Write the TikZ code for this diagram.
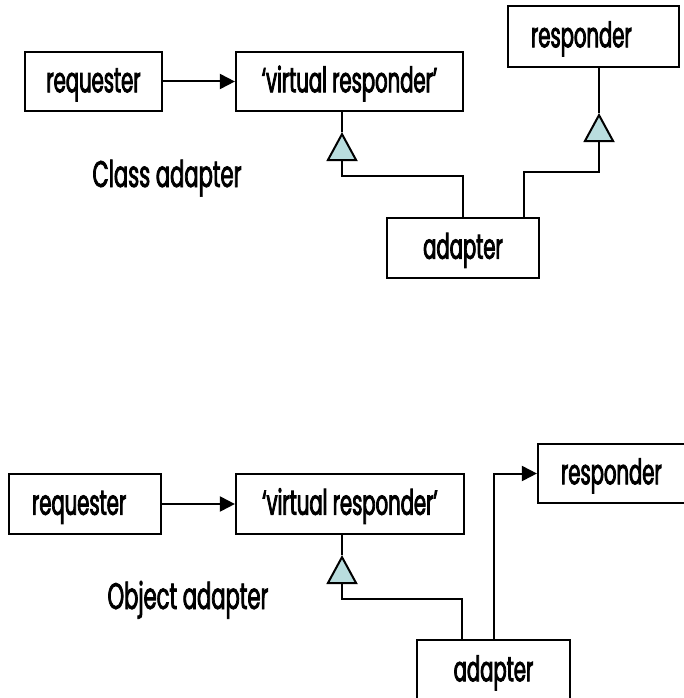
\documentclass[tikz,border=0pt]{standalone}
\usepackage{fontspec}
\newfontfamily\lab[FakeStretch=0.56,FakeBold=2.3]{Poppins}
\newfontfamily\capfont[FakeStretch=0.57,FakeBold=2]{Poppins}
\usetikzlibrary{arrows.meta}
\definecolor{genfill}{RGB}{185,221,222}
\tikzset{
  box/.style={draw, line width=2.2pt, inner sep=0pt, text height=27.6pt, text depth=6pt,
    font=\lab\fontsize{35}{38}\selectfont},
  leftbox/.style={box, inner xsep=23pt, align=left},
  link/.style={line width=2pt},
  call/.style={link, -{Triangle[length=15pt,width=15pt]}},
  gen/.style={link, -{Triangle[length=29pt,width=31pt,fill=genfill]}},
  caption/.style={anchor=base, font=\capfont\fontsize{37}{40}\selectfont}
}
\begin{document}
\begin{tikzpicture}[x=1pt,y=-1pt]
\useasboundingbox (0,0) rectangle (684,698);

% ---- class adapter ----
\node[box, minimum width=137pt, minimum height=59pt] (req1) at (93.5,81.5) {requester};
\node[box, minimum width=227pt, minimum height=59pt] (vr1) at (349.5,81.5) {‘virtual responder’};
\node[leftbox, text width=125pt, minimum height=61pt] (resp1) at (593.5,36.5) {responder};
\node[box, minimum width=152pt, minimum height=60pt] (ad1) at (463,248) {adapter};
\node[caption] (cap1) at (167,187) {Class adapter};

\coordinate (tip1) at (342,132);
\coordinate (tip2) at (599,113);

\draw[call] (req1.east) -- (vr1.west);
\draw[gen] (ad1.north) -- ++(0,-41) -| (tip1);
\draw[link] (vr1.south -| tip1) -- (tip1);
\draw[gen] ([xshift=-16pt]ad1.north east) -- ++(0,-45) -| (tip2);
\draw[link] (resp1.south -| tip2) -- (tip2);

% ---- object adapter ----
\node[leftbox, text width=106pt, minimum height=60pt] (req2) at (85,504) {requester};
\node[box, minimum width=228pt, minimum height=60pt] (vr2) at (350,504) {‘virtual responder’};
\node[leftbox, text width=114pt, minimum height=59pt] (resp2) at (618,473.5) {responder};
\node[box, minimum width=153pt, minimum height=61pt] (ad2) at (493.5,670.5) {adapter};
\node[caption] (cap2) at (188,609) {Object adapter};

\coordinate (tip3) at (342,555);

\draw[call] (req2.east) -- (vr2.west);
\draw[gen] ([xshift=46pt]ad2.north west) -- ++(0,-40) -| (tip3);
\draw[link] (vr2.south -| tip3) -- (tip3);
\draw[call] (ad2.north) |- (resp2.west);
\end{tikzpicture}
\end{document}
